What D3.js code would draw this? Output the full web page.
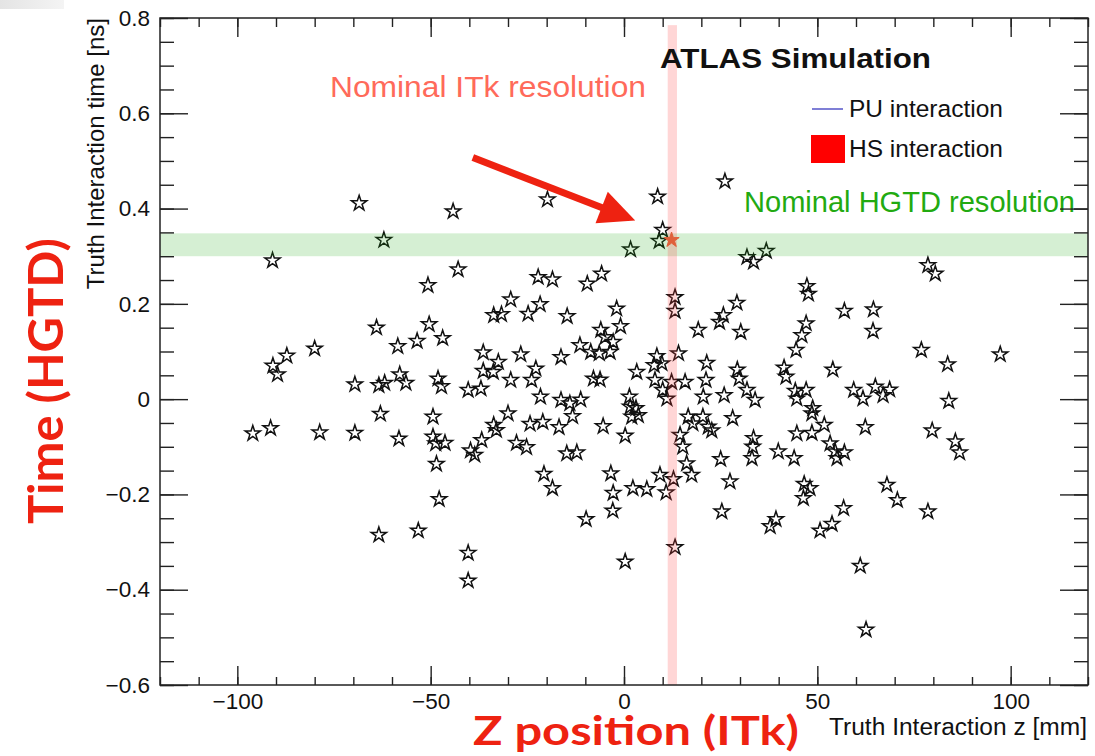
<!DOCTYPE html>
<html><head><meta charset="utf-8">
<script src="https://cdn.jsdelivr.net/npm/d3@7"></script>
<style>html,body{margin:0;padding:0;background:#fff;} svg{display:block;}</style>
</head><body>
<script>
// ---- data ----
const zPU = [-68.5,-62.1,-90.9,-64.0,-58.5,-80.0,-87.2,-90.8,-89.6,-69.6,-63.4,-61.9,-58.0,-56.4,-63.0,-58.2,-96.0,-91.4,-78.7,-69.6,-63.4,
 -44.2,-19.8,-42.9,-50.7,-22.2,-18.5,-29.3,-33.7,-31.7,-24.8,-21.7,-50.4,-53.5,-46.9,-36.4,-32.5,-26.7,-22.8,-16.3,-36.4,-33.8,-48.1,-47.2,-40.3,-37.0,-29.3,-23.9,-21.6,-16.3,
 -49.4,-30.0,-33.7,-33.0,-24.3,-21.0,-16.8,-49.4,-48.7,-46.3,-36.8,-39.7,-38.6,-27.8,-25.2,-48.5,-20.7,-18.5,-47.8,-53.2,-40.3,-40.3,
 8.7,10.0,9.1,1.7,-5.8,-9.5,13.2,13.2,-14.7,-1.9,-6.0,-0.9,-4.9,-2.8,-3.6,-11.4,-8.6,-6.4,19.2,14.1,8.5,7.8,9.8,3.3,-7.9,-6.2,8.0,12.3,15.8,10.0,11.1,1.4,1.6,3.1,2.0,3.7,
 -14.0,-11.2,-13.3,-5.4,0.3,14.5,16.6,17.8,15.2,16.2,17.5,-14.8,-12.2,-3.4,-2.8,-2.9,-9.8,2.3,5.9,9.3,12.8,10.9,13.2,0.3,
 26.1,31.8,33.5,36.8,47.3,47.7,57.0,29.2,25.7,24.7,30.2,47.1,46.0,44.5,21.4,21.2,20.5,29.3,29.8,31.8,33.9,25.9,41.4,41.9,54.0,44.3,47.1,44.7,48.8,48.6,51.8,59.4,
 20.4,21.8,22.7,28.1,33.5,33.3,33.1,25.0,39.9,44.0,44.7,48.6,53.3,54.6,55.1,57.0,27.4,46.6,48.1,46.4,25.3,39.3,37.8,50.7,53.8,56.8,61.1,62.6,
 78.6,80.5,64.5,64.4,76.9,83.7,97.3,65.0,67.0,68.7,61.8,84.0,62.4,79.7,85.7,86.8,68.0,70.7,78.6];
const tPU = [0.411,0.334,0.291,0.150,0.111,0.106,0.091,0.070,0.052,0.031,0.029,0.034,0.052,0.034,-0.031,-0.083,-0.072,-0.061,-0.070,-0.071,-0.285,
 0.394,0.419,0.272,0.239,0.256,0.251,0.209,0.176,0.178,0.179,0.199,0.157,0.122,0.128,0.098,0.078,0.094,0.064,0.088,0.059,0.057,0.043,0.027,0.019,0.022,0.040,0.040,0.005,-0.002,
 -0.037,-0.030,-0.054,-0.065,-0.052,-0.048,-0.059,-0.079,-0.093,-0.092,-0.086,-0.108,-0.117,-0.092,-0.101,-0.136,-0.157,-0.187,-0.210,-0.276,-0.323,-0.381,
 0.425,0.355,0.332,0.314,0.263,0.242,0.214,0.185,0.174,0.190,0.145,0.153,0.130,0.120,0.099,0.113,0.099,0.096,0.145,0.096,0.090,0.071,0.075,0.057,0.043,0.041,0.040,0.036,0.036,0.019,0.001,0.005,-0.016,-0.019,-0.037,-0.034,
 -0.009,-0.001,-0.036,-0.057,-0.077,-0.075,-0.037,-0.051,-0.100,-0.135,-0.159,-0.114,-0.112,-0.156,-0.197,-0.234,-0.252,-0.187,-0.189,-0.159,-0.168,-0.196,-0.311,-0.341,
 0.457,0.298,0.288,0.311,0.237,0.221,0.185,0.202,0.176,0.162,0.141,0.159,0.134,0.103,0.076,0.040,0.005,0.062,0.043,0.019,-0.002,0.008,0.066,0.047,0.062,0.017,0.019,0.001,-0.019,-0.030,-0.054,0.019,
 -0.037,-0.058,-0.066,-0.040,-0.082,-0.100,-0.124,-0.126,-0.110,-0.124,-0.072,-0.071,-0.093,-0.110,-0.124,-0.112,-0.173,-0.178,-0.187,-0.208,-0.236,-0.252,-0.267,-0.276,-0.262,-0.229,-0.350,-0.484,
 0.281,0.263,0.188,0.143,0.103,0.073,0.094,0.026,0.008,0.020,0.001,-0.004,-0.059,-0.066,-0.089,-0.112,-0.180,-0.212,-0.236];
const zHS = [12.3];
const tHS = [0.334];
const xMajorTicks = [-100,-50,0,50,100];
const xMinorTicks = [-120,-110,-100,-90,-80,-70,-60,-50,-40,-30,-20,-10,0,10,20,30,40,50,60,70,80,90,100,110,120];
const yMajorTicks = [-0.6,-0.4,-0.2,0,0.2,0.4,0.6,0.8];
const yMinorTicks = [-0.6,-0.55,-0.5,-0.45,-0.4,-0.35,-0.3,-0.25,-0.2,-0.15,-0.1,-0.05,0,0.05,0.1,0.15,0.2,0.25,0.3,0.35,0.4,0.45,0.5,0.55,0.6,0.65,0.7,0.75,0.8];
const hgtdBand = [0.300, 0.348];
const itkBand = [11.3, 13.7];
const itkBandTop = 0.785;
const arrowZ = [-39.1, 2.9];
const arrowT = [0.507, 0.375];

// ---- layout ----
const W = 1095, H = 756;
const L = 160, R = 1088, T = 18, B = 685;
const FONT = "'Liberation Sans', Arial, Helvetica, sans-serif";
const RED = "#ee2211";

const svg = d3.select("body").append("svg").attr("width", W).attr("height", H);

// screenshot artefact top-left
const defs = svg.append("defs");
const gr = defs.append("linearGradient").attr("id","fade").attr("x1",0).attr("x2",1).attr("y1",0).attr("y2",0);
gr.append("stop").attr("offset","0%").attr("stop-color","#e4e4e4");
gr.append("stop").attr("offset","100%").attr("stop-color","#f4f4f4");
svg.append("rect").attr("x",0).attr("y",0).attr("width",64).attr("height",9).attr("fill","url(#fade)");

const x = d3.scaleLinear().domain([-120, 120]).range([L, R]);
const y = d3.scaleLinear().domain([-0.6, 0.8]).range([B, T]);

const star = d3.symbol().type(d3.symbolStar).size(72);

// PU stars
svg.append("g").selectAll("path").data(d3.range(zPU.length)).join("path")
  .attr("d", star)
  .attr("transform", i => `translate(${x(zPU[i])},${y(tPU[i])})`)
  .attr("fill", "none").attr("stroke", "#111").attr("stroke-width", 1.5);

// bands (over the stars)
svg.append("rect")
  .attr("x", L).attr("width", R - L)
  .attr("y", y(hgtdBand[1])).attr("height", y(hgtdBand[0]) - y(hgtdBand[1]))
  .attr("fill", "rgb(30,170,20)").attr("fill-opacity", 0.19);
svg.append("rect")
  .attr("x", x(itkBand[0])).attr("width", x(itkBand[1]) - x(itkBand[0]))
  .attr("y", y(itkBandTop)).attr("height", y(-0.6) - y(itkBandTop))
  .attr("fill", "rgb(255,60,60)").attr("fill-opacity", 0.21);

// HS star
svg.append("g").selectAll("path").data(d3.range(zHS.length)).join("path")
  .attr("d", star)
  .attr("transform", i => `translate(${x(zHS[i])},${y(tHS[i])})`)
  .attr("fill", "#e0603a").attr("stroke", "#e0603a").attr("stroke-width", 1);

// arrow
{
  const x0 = x(arrowZ[0]), y0 = y(arrowT[0]), x1 = x(arrowZ[1]), y1 = y(arrowT[1]);
  const dx = x1 - x0, dy = y1 - y0, len = Math.hypot(dx, dy);
  const ux = dx / len, uy = dy / len, px = -uy, py = ux;
  const hl = 36, hw = 17;
  const bx = x1 - ux * hl, by = y1 - uy * hl;
  svg.append("line").attr("x1", x0).attr("y1", y0).attr("x2", bx + ux * 2).attr("y2", by + uy * 2)
    .attr("stroke", RED).attr("stroke-width", 7);
  svg.append("path")
    .attr("d", `M${x1},${y1}L${bx + px * hw},${by + py * hw}L${bx - px * hw},${by - py * hw}Z`)
    .attr("fill", RED);
}

// annotation texts
svg.append("text").attr("x", 330).attr("y", 97).text("Nominal ITk resolution")
  .attr("font-family", FONT).attr("font-size", 29).attr("fill", "#ff6a5a")
  .attr("textLength", 316).attr("lengthAdjust", "spacingAndGlyphs");
svg.append("text").attr("x", 744).attr("y", 212).text("Nominal HGTD resolution")
  .attr("font-family", FONT).attr("font-size", 29).attr("fill", "#22aa11")
  .attr("textLength", 331).attr("lengthAdjust", "spacingAndGlyphs");
svg.append("text").attr("x", 660).attr("y", 68).text("ATLAS Simulation")
  .attr("font-family", FONT).attr("font-size", 28).attr("font-weight", "bold").attr("fill", "#111")
  .attr("textLength", 271).attr("lengthAdjust", "spacingAndGlyphs");

// legend
svg.append("line").attr("x1", 812).attr("x2", 843).attr("y1", 109).attr("y2", 109)
  .attr("stroke", "#3a3ac0").attr("stroke-width", 1.3);
svg.append("text").attr("x", 849).attr("y", 117).text("PU interaction")
  .attr("font-family", FONT).attr("font-size", 24.5).attr("fill", "#111");
svg.append("rect").attr("x", 811).attr("y", 135).attr("width", 34).attr("height", 28).attr("fill", "#ff0000");
svg.append("text").attr("x", 849).attr("y", 157).text("HS interaction")
  .attr("font-family", FONT).attr("font-size", 24.5).attr("fill", "#111");

// axes
const fmt = v => (v < 0 ? "\u2212" : "") + Math.abs(v);
function style(g, withText) {
  g.select(".domain").remove();
  g.selectAll("line").attr("stroke", "#222").attr("stroke-width", 1.4);
  if (withText) g.selectAll("text").attr("font-family", FONT).attr("font-size", 22.5).attr("fill", "#111");
  else g.selectAll("text").remove();
}
style(svg.append("g").attr("transform", `translate(0,${B})`)
  .call(d3.axisBottom(x).tickValues(xMinorTicks).tickSize(-8).tickFormat("")), false);
style(svg.append("g").attr("transform", `translate(0,${B})`)
  .call(d3.axisBottom(x).tickValues(xMajorTicks).tickSize(-19).tickPadding(8).tickFormat(fmt)), true);
style(svg.append("g").attr("transform", `translate(0,${T})`)
  .call(d3.axisTop(x).tickValues(xMinorTicks).tickSize(-9).tickFormat("")), false);
style(svg.append("g").attr("transform", `translate(0,${T})`)
  .call(d3.axisTop(x).tickValues(xMajorTicks).tickSize(-19).tickFormat("")), false);
style(svg.append("g").attr("transform", `translate(${L},0)`)
  .call(d3.axisLeft(y).tickValues(yMinorTicks).tickSize(-14).tickFormat("")), false);
style(svg.append("g").attr("transform", `translate(${L},0)`)
  .call(d3.axisLeft(y).tickValues(yMajorTicks).tickSize(-28).tickPadding(10).tickFormat(fmt)), true);
style(svg.append("g").attr("transform", `translate(${R},0)`)
  .call(d3.axisRight(y).tickValues(yMinorTicks).tickSize(-14).tickFormat("")), false);
style(svg.append("g").attr("transform", `translate(${R},0)`)
  .call(d3.axisRight(y).tickValues(yMajorTicks).tickSize(-28).tickFormat("")), false);

svg.append("rect").attr("x", L).attr("y", T).attr("width", R - L).attr("height", B - T)
  .attr("fill", "none").attr("stroke", "#222").attr("stroke-width", 1.5);

// axis titles
svg.append("text").attr("x", R - 1).attr("y", 735).attr("text-anchor", "end")
  .text("Truth Interaction z [mm]").attr("font-family", FONT).attr("font-size", 23.5).attr("fill", "#111")
  .attr("textLength", 258).attr("lengthAdjust", "spacingAndGlyphs");
svg.append("text").attr("transform", `translate(104,${T}) rotate(-90)`).attr("text-anchor", "end")
  .text("Truth Interaction time [ns]").attr("font-family", FONT).attr("font-size", 24).attr("fill", "#111");

// big red labels
svg.append("text").attr("transform", "translate(63,381) rotate(-90)").attr("text-anchor", "middle")
  .text("Time (HGTD)").attr("font-family", "Lato, 'Open Sans', sans-serif").attr("font-weight", "bold")
  .attr("font-size", 48).attr("fill", RED).attr("textLength", 286).attr("lengthAdjust", "spacingAndGlyphs");
svg.append("text").attr("x", 473).attr("y", 745)
  .text("Z position (ITk)").attr("font-family", "Lato, 'Open Sans', sans-serif").attr("font-weight", "bold")
  .attr("font-size", 40).attr("fill", RED).attr("textLength", 326).attr("lengthAdjust", "spacingAndGlyphs");
</script>
</body></html>
